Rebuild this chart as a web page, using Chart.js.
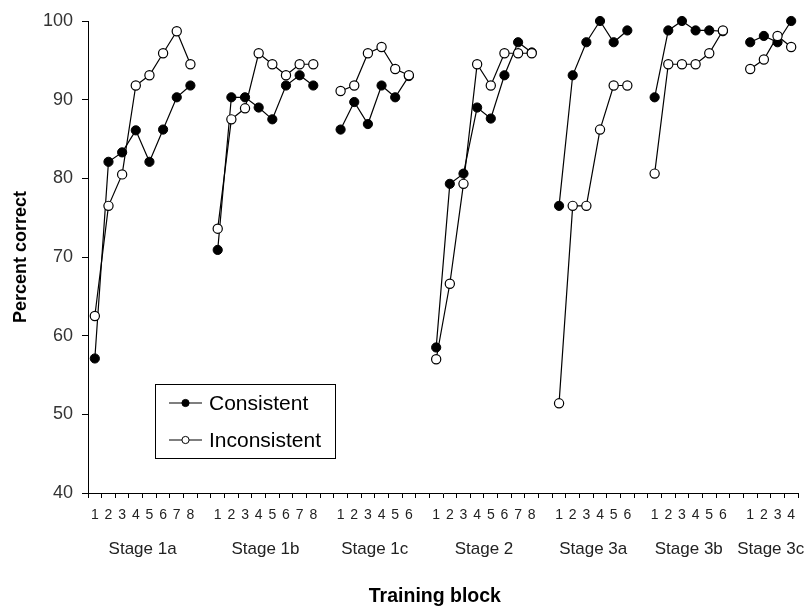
<!DOCTYPE html>
<html>
<head>
<meta charset="utf-8">
<title>Percent correct by training block</title>
<script src="https://cdn.jsdelivr.net/npm/chart.js@4"></script>
<style>
  html, body { margin: 0; padding: 0; background: #fff; }
  #wrap { width: 805px; height: 608px; position: relative; }
</style>
</head>
<body>
<div id="wrap"><canvas id="chart"></canvas></div>
<script>
// Training stages and the number of blocks in each
const stageNames = ['Stage 1a', 'Stage 1b', 'Stage 1c', 'Stage 2', 'Stage 3a', 'Stage 3b', 'Stage 3c'];
const blocksPerStage = [8, 8, 6, 8, 6, 6, 4];

// Percent correct per block, one array per stage
const consistent = [
  [57.1, 82.1, 83.3, 86.1, 82.1, 86.2, 90.3, 91.8],
  [70.9, 90.3, 90.3, 89.0, 87.5, 91.8, 93.1, 91.8],
  [86.2, 89.7, 86.9, 91.8, 90.3, 93.0],
  [58.5, 79.3, 80.6, 89.0, 87.6, 93.1, 97.3, 96.0],
  [76.5, 93.1, 97.3, 100, 97.3, 98.8],
  [90.3, 98.8, 100, 98.8, 98.8, 98.7],
  [97.3, 98.1, 97.3, 100]
];
const inconsistent = [
  [62.5, 76.5, 80.5, 91.8, 93.1, 95.9, 98.7, 94.5],
  [73.6, 87.5, 88.9, 95.9, 94.5, 93.1, 94.5, 94.5],
  [91.1, 91.8, 95.9, 96.7, 93.9, 93.1],
  [57.0, 66.6, 79.3, 94.5, 91.8, 95.9, 95.9, 95.9],
  [51.4, 76.5, 76.5, 86.2, 91.8, 91.8],
  [80.6, 94.5, 94.5, 94.5, 95.9, 98.8],
  [93.9, 95.1, 98.1, 96.7]
];

// Y axis range
const yMin = 40, yMax = 100, yStep = 10;

// Flatten stages onto one category axis, with an empty slot between stages
const labels = [];
const stageRanges = [];
const flatConsistent = [];
const flatInconsistent = [];
stageNames.forEach((name, s) => {
  if (s > 0) { labels.push(''); flatConsistent.push(null); flatInconsistent.push(null); }
  const start = labels.length;
  for (let b = 0; b < blocksPerStage[s]; b++) {
    labels.push(String(b + 1));
    flatConsistent.push(consistent[s][b]);
    flatInconsistent.push(inconsistent[s][b]);
  }
  stageRanges.push({ name, start, end: labels.length - 1 });
});

const FONT = '"Liberation Sans", Arial, Helvetica, sans-serif';

// Stage names centred under each group of block numbers
const stageLabelPlugin = {
  id: 'stageLabels',
  afterDraw(chart) {
    const { ctx, scales: { x } } = chart;
    ctx.save();
    ctx.font = '17px ' + FONT;
    ctx.fillStyle = '#222';
    ctx.textAlign = 'center';
    ctx.textBaseline = 'middle';
    stageRanges.forEach(r => {
      const cx = (x.getPixelForValue(r.start) + x.getPixelForValue(r.end)) / 2;
      ctx.fillText(r.name, cx, 549);
    });
    ctx.restore();
  }
};

// Boxed legend inside the plot area
const boxLegendPlugin = {
  id: 'boxLegend',
  afterDraw(chart) {
    const { ctx } = chart;
    const bx = 155.5, by = 384.5, bw = 180, bh = 74;
    ctx.save();
    ctx.strokeStyle = '#000';
    ctx.lineWidth = 1;
    ctx.fillStyle = '#fff';
    ctx.fillRect(bx, by, bw, bh);
    ctx.strokeRect(bx, by, bw, bh);
    const rows = [403, 440];
    chart.data.datasets.forEach((ds, i) => {
      const y = rows[i];
      ctx.beginPath();
      ctx.moveTo(169, y);
      ctx.lineTo(202, y);
      ctx.strokeStyle = '#000';
      ctx.lineWidth = 1.2;
      ctx.stroke();
      ctx.beginPath();
      ctx.arc(185.5, y, 3.6, 0, Math.PI * 2);
      ctx.fillStyle = ds.pointBackgroundColor;
      ctx.fill();
      ctx.lineWidth = 1;
      ctx.stroke();
      ctx.fillStyle = '#000';
      ctx.font = '21px ' + FONT;
      ctx.textAlign = 'left';
      ctx.textBaseline = 'middle';
      ctx.fillText(ds.label, 209, y + 1);
    });
    ctx.restore();
  }
};

new Chart(document.getElementById('chart'), {
  type: 'line',
  data: {
    labels,
    datasets: [
      {
        label: 'Consistent',
        data: flatConsistent,
        borderColor: '#000',
        borderWidth: 1.2,
        pointBackgroundColor: '#000',
        pointBorderColor: '#000',
        pointBorderWidth: 1,
        pointRadius: 4.6,
        tension: 0,
        spanGaps: false,
        clip: false,
        order: 1
      },
      {
        label: 'Inconsistent',
        data: flatInconsistent,
        borderColor: '#000',
        borderWidth: 1.2,
        pointBackgroundColor: '#fff',
        pointBorderColor: '#000',
        pointBorderWidth: 1.2,
        pointRadius: 4.6,
        tension: 0,
        spanGaps: false,
        clip: false,
        order: 0
      }
    ]
  },
  options: {
    responsive: true,
    maintainAspectRatio: false,
    animation: false,
    devicePixelRatio: 1,
    layout: { padding: { top: 21, right: 7, left: 0, bottom: 0 } },
    plugins: {
      legend: { display: false },
      tooltip: { enabled: false }
    },
    scales: {
      x: {
        type: 'category',
        offset: true,
        afterFit(scale) { scale.height = 115; },
        grid: {
          display: true,
          offset: true,
          drawOnChartArea: false,
          drawTicks: true,
          tickLength: 5,
          color: '#000',
          lineWidth: 1
        },
        border: { display: true, color: '#000', width: 1 },
        ticks: {
          autoSkip: false,
          maxRotation: 0,
          minRotation: 0,
          padding: 9,
          color: '#222',
          font: { family: FONT, size: 14 }
        },
        title: {
          display: true,
          text: 'Training block   ',
          color: '#000',
          font: { family: FONT, size: 19.5, weight: 'bold' },
          padding: { top: 0, bottom: 0 }
        }
      },
      y: {
        min: yMin,
        max: yMax,
        afterFit(scale) { scale.width = 88; },
        grid: {
          display: true,
          drawOnChartArea: false,
          drawTicks: true,
          tickLength: 6,
          color: '#000',
          lineWidth: 1
        },
        border: { display: true, color: '#000', width: 1 },
        ticks: {
          stepSize: yStep,
          padding: 9,
          color: '#333',
          font: { family: FONT, size: 18 }
        },
        title: {
          display: true,
          text: 'Percent correct',
          color: '#000',
          font: { family: FONT, size: 18, weight: 'bold' },
          padding: { top: 10, bottom: 0 }
        }
      }
    }
  },
  plugins: [stageLabelPlugin, boxLegendPlugin]
});
</script>
</body>
</html>
